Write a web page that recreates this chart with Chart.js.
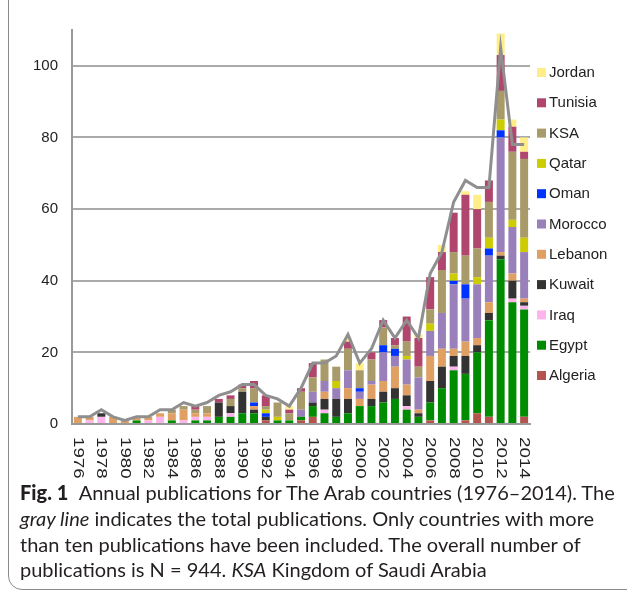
<!DOCTYPE html>
<html>
<head>
<meta charset="utf-8">
<script src="https://cdn.jsdelivr.net/npm/chart.js@4.4.0/dist/chart.umd.min.js"></script>
<style>
  html, body { margin: 0; padding: 0; background: #fff; }
  body { width: 627px; height: 590px; position: relative; overflow: hidden; }
  #frame { position: absolute; left: 8px; top: -20px; width: 700px; height: 610px; border: 1.5px solid #8a8a8a; border-radius: 14px; box-sizing: border-box; }
  #wrap { position: absolute; left: 0; top: 0; width: 627px; height: 488px; }
  #caption { position: absolute; left: 20px; top: 480px; font-family: Lato, "Open Sans", sans-serif; font-size: 20px; line-height: 25.8px; color: #231f20; white-space: nowrap; }
  #caption b { font-weight: 900; margin-right: 6px; }
</style>
</head>
<body>
<div id="frame"></div>
<div id="wrap"><canvas id="grafico"></canvas></div>
<div id="caption">
  <b>Fig. 1</b> Annual publications for The Arab countries (1976–2014). The<br>
  <i>gray line</i> indicates the total publications. Only countries with more<br>
  than ten publications have been included. The overall number of<br>
  publications is N = 944. <i>KSA</i> Kingdom of Saudi Arabia
</div>
<script>
const anos = ['1976','1977','1978','1979','1980','1981','1982','1983','1984','1985',
  '1986','1987','1988','1989','1990','1991','1992','1993','1994','1995',
  '1996','1997','1998','1999','2000','2001','2002','2003','2004','2005',
  '2006','2007','2008','2009','2010','2011','2012','2013','2014'];
const anosRotulo = ['1976','1978','1980','1982','1984','1986','1988','1990','1992','1994',
  '1996','1998','2000','2002','2004','2006','2008','2010','2012','2014'];
const yTicks = [0, 20, 40, 60, 80, 100];

//             76 77 78 79 80 81 82 83 84 85 86 87 88 89 90 91 92 93 94 95 96 97 98 99 00 01 02 03 04 05 06 07 08 09 10 11 12 13 14
const algeria = [0, 0, 0, 0, 0, 0, 0, 0, 0, 0, 0, 0, 0, 0, 0, 0, 1, 0, 0, 1, 2, 0, 0, 0, 0, 0, 0, 0, 0, 0, 1, 0, 0, 1, 3, 2, 0, 0, 2];
const egypt   = [0, 0, 0, 0, 0, 1, 0, 0, 1, 0, 1, 1, 2, 2, 3, 3, 0, 1, 1, 1, 3, 3, 2, 3, 5, 5, 6, 7, 4, 2, 5,10,15,13,17,27,46,34,30];
const iraq    = [0, 1, 2, 0, 0, 0, 1, 2, 0, 1, 1, 1, 0, 1, 0, 0, 0, 0, 0, 0, 0, 1, 0, 0, 0, 0, 0, 0, 1, 0, 0, 0, 1, 0, 0, 0, 0, 1, 1];
const kuwait  = [0, 0, 1, 0, 0, 0, 0, 0, 0, 0, 0, 0, 4, 2, 6, 1, 1, 0, 0, 0, 1, 3, 5, 4, 0, 2, 3, 3, 3, 1, 6, 6, 3, 5, 2, 2, 1, 5, 1];
const lebanon = [2, 1, 0, 2, 1, 1, 1, 1, 2, 3, 1, 1, 0, 0, 0, 1, 0, 0, 0, 0, 0, 2, 0, 3, 2, 4, 3, 6, 3, 1, 7, 5, 2, 4, 2, 3, 1, 2, 1];
const morocco = [0, 0, 0, 0, 0, 0, 0, 0, 0, 0, 0, 0, 0, 0, 0, 0, 0, 0, 0, 2, 3, 3, 3, 5, 2, 1, 8, 3, 7, 9, 7,10,18,12,15,13,32,13,13];
const oman    = [0, 0, 0, 0, 0, 0, 0, 0, 0, 0, 0, 0, 0, 0, 0, 1, 1, 0, 0, 0, 0, 0, 0, 0, 1, 0, 2, 2, 0, 0, 0, 0, 1, 4, 0, 2, 2, 0, 0];
const qatar   = [0, 0, 0, 0, 0, 0, 0, 0, 0, 0, 0, 0, 0, 0, 0, 0, 1, 1, 0, 0, 0, 0, 2, 0, 0, 0, 0, 0, 1, 0, 2, 0, 2, 0, 2, 3, 3, 2, 4];
const ksa     = [0, 0, 0, 0, 0, 0, 0, 0, 1, 1, 1, 2, 0, 2, 1, 4, 1, 4, 2, 5, 4, 6, 4, 6, 5, 6, 5, 1, 4, 3, 4,12, 6, 8, 8,10, 8,19,22];
const tunisia = [0, 0, 0, 0, 0, 0, 0, 0, 0, 0, 1, 0, 1, 1, 1, 2, 3, 0, 1, 1, 4, 0, 0, 2, 0, 2, 2, 2, 7, 8, 9, 5,11,17,11, 6,10, 7, 2];
const jordan  = [0, 0, 0, 0, 0, 0, 0, 0, 0, 0, 0, 0, 0, 0, 0, 0, 0, 0, 1, 0, 0, 0, 0, 1, 2, 0, 0, 0, 0, 1, 0, 2, 0, 1, 4, 0, 6, 2, 4];
const totalPub = [2, 2, 4, 2, 1, 2, 2, 4, 4, 6, 5, 6, 8, 9,11,11, 8, 7, 5,10,17,17,19,25,17,21,29,24,29,24,42,48,62,68,66,66,105,78,78];

function barra(nome, dados, cor) {
    return { type: 'bar', label: nome, data: dados, backgroundColor: cor, order: 1,
             categoryPercentage: 1, barPercentage: 0.68 };
}

const extras = {
    id: 'extras',
    afterDraw(chart) {
        const ctx = chart.ctx;
        const xs = chart.scales.x;
        const area = chart.chartArea;
        ctx.save();
        ctx.fillStyle = '#222';
        ctx.font = '15px "Liberation Sans", Arial, sans-serif';
        ctx.textAlign = 'left';
        ctx.textBaseline = 'middle';
        anosRotulo.forEach(a => {
            const x = xs.getPixelForValue(anos.indexOf(a));
            ctx.save();
            ctx.translate(x, area.bottom + 13);
            ctx.rotate(Math.PI / 2);
            ctx.scale(1.25, 1);
            ctx.fillText(a, 0, 0);
            ctx.restore();
        });
        // legenda (ordem invertida, Jordan em cima)
        const itens = chart.data.datasets.filter(d => d.type === 'bar').slice().reverse();
        itens.forEach((d, i) => {
            const y = 73 + i * 30.3;
            ctx.fillStyle = d.backgroundColor;
            ctx.fillRect(537, y - 5, 9, 9);
            ctx.fillStyle = '#222';
            ctx.fillText(d.label, 549, y);
        });
        ctx.restore();
    }
};

const ctx = document.getElementById('grafico').getContext('2d');
const grafico = new Chart(ctx, {
    data: {
        labels: anos,
        datasets: [
            { type: 'line', label: 'Total', data: totalPub, borderColor: '#8f8f8f', borderWidth: 3,
              pointRadius: 0, tension: 0, fill: false, order: 0 },
            barra('Algeria', algeria, '#b5544d'),
            barra('Egypt', egypt, '#008c00'),
            barra('Iraq', iraq, '#ffb3ec'),
            barra('Kuwait', kuwait, '#333333'),
            barra('Lebanon', lebanon, '#e0a063'),
            barra('Morocco', morocco, '#9a80ba'),
            barra('Oman', oman, '#0033ff'),
            barra('Qatar', qatar, '#cccc00'),
            barra('KSA', ksa, '#a99a69'),
            barra('Tunisia', tunisia, '#b0466d'),
            barra('Jordan', jordan, '#ffee88')
        ]
    },
    options: {
        responsive: true,
        maintainAspectRatio: false,
        animation: false,
        layout: { padding: { top: 30, right: 97, bottom: 64, left: 0 } },
        plugins: { legend: { display: false }, tooltip: { enabled: false } },
        scales: {
            x: {
                stacked: true,
                offset: true,
                grid: { display: false, drawTicks: false },
                border: { color: '#999', width: 2 },
                ticks: { display: false }
            },
            y: {
                stacked: true,
                min: 0,
                max: 110,
                afterFit: s => { s.width = 72; },
                afterBuildTicks: s => { s.ticks = yTicks.map(v => ({ value: v })); },
                ticks: { padding: 14, color: '#222', font: { family: '"Liberation Sans", Arial, sans-serif', size: 15 } },
                grid: { color: c => c.tick && c.tick.value === 0 ? 'rgba(0,0,0,0)' : '#aaaaaa', lineWidth: 2, drawTicks: false },
                border: { color: '#999', width: 2 }
            }
        }
    },
    plugins: [extras]
});
</script>
</body>
</html>
